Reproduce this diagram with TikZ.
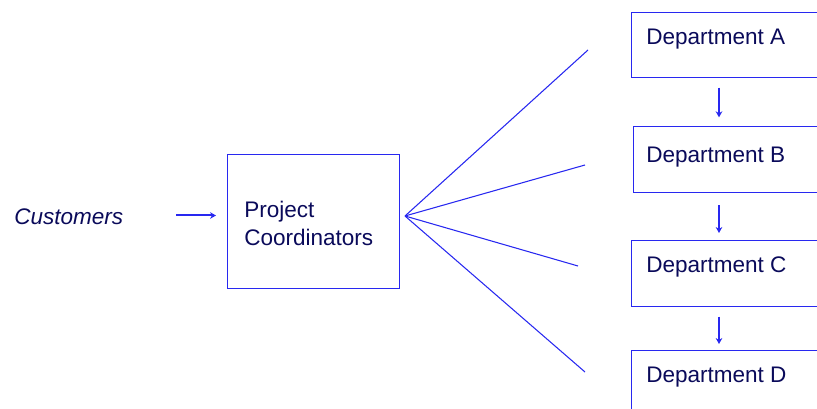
\documentclass[tikz,border=0pt]{standalone}
\usepackage{fontspec}
\setmainfont{Liberation Sans}
\usetikzlibrary{arrows.meta}
\definecolor{linkblue}{RGB}{40,40,240}
\definecolor{inknavy}{RGB}{10,10,90}
\begin{document}
\begin{tikzpicture}[x=0.75pt,y=-0.75pt,
  boxline/.style={draw=linkblue,line width=0.9pt},
  panel/.style={boxline,rectangle,inner sep=0pt},
  caption/.style={text=inknavy,font=\fontsize{16.9}{21}\selectfont,inner sep=0pt,anchor=west,align=left},
  link/.style={draw=linkblue,line width=0.8pt},
  arr/.style={draw=linkblue,line width=1.5pt,-{Stealth[length=4.5pt,width=5pt]}}]
  \useasboundingbox (0,0) rectangle (817,409);
  \clip (0,0) rectangle (817,409);

  % intake
  \node[caption,font=\fontsize{16.9}{21}\selectfont\itshape] (cust) at (14,217) {Customers};
  \node[panel,minimum width=129pt,minimum height=100.5pt,anchor=north west] (pc) at (227,154) {};
  \node[caption] (pctext) at (244,223) {Project\\Coordinators};
  \coordinate (cin) at (176,215.5);
  \coordinate (cout) at (216,215.5);
  \draw[arr] (cin) -- (cout);

  % department boxes (run off the right edge)
  \node[panel,minimum width=160pt,minimum height=48.75pt,anchor=north west] (dA) at (631,12) {};
  \node[panel,minimum width=160pt,minimum height=49.5pt,anchor=north west] (dB) at (633,126) {};
  \node[panel,minimum width=160pt,minimum height=49.5pt,anchor=north west] (dC) at (631,240) {};
  \node[panel,minimum width=160pt,minimum height=49.5pt,anchor=north west] (dD) at (631,350) {};
  \node[caption] (tA) at (646,39) {Department A};
  \node[caption] (tB) at (646,157) {Department B};
  \node[caption] (tC) at (646,267) {Department C};
  \node[caption] (tD) at (646,377) {Department D};

  % hand-offs down the chain
  \coordinate (ax) at (719,0);
  \draw[arr,shorten <=7pt,shorten >=6.5pt] (dA.south west -| ax) -- (dB.north west -| ax);
  \draw[arr,shorten <=9pt,shorten >=5.25pt] (dB.south west -| ax) -- (dC.north west -| ax);
  \draw[arr,shorten <=7pt,shorten >=4.5pt] (dC.south west -| ax) -- (dD.north west -| ax);

  % fan-out from the coordinators
  \coordinate (fan) at (405,216);
  \coordinate (fA) at (588,50);
  \coordinate (fB) at (585,165);
  \coordinate (fC) at (578,266);
  \coordinate (fD) at (585,372);
  \foreach \e in {fA,fB,fC,fD} \draw[link] (fan) -- (\e);
\end{tikzpicture}
\end{document}
